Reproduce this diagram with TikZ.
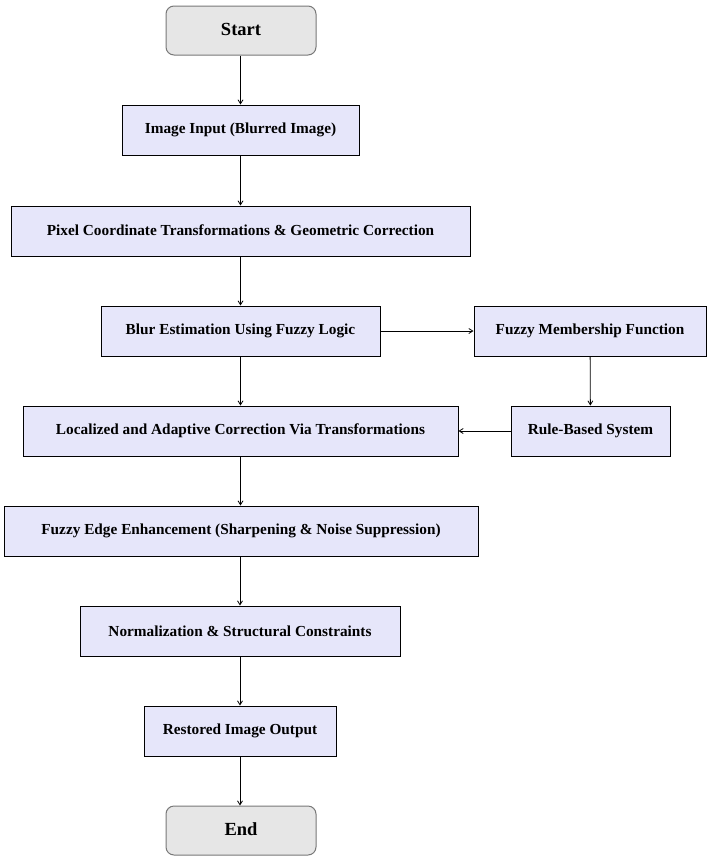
\documentclass[tikz,border=0pt]{standalone}
\usepackage{fontspec}
\setmainfont{Liberation Serif}
\usetikzlibrary{arrows.meta}
\begin{document}
\begin{tikzpicture}[x=1pt,y=-1pt,
  procbox/.style={draw=black, line width=1pt, fill={rgb,255:red,230;green,230;blue,250}, inner sep=0pt, font=\bfseries\fontsize{15.3}{17}\selectfont},
  termbox/.style={draw={rgb,255:red,120;green,120;blue,120}, line width=1pt, fill={rgb,255:red,230;green,230;blue,230}, rounded corners=8pt, inner sep=0pt, font=\bfseries\fontsize{18.5}{20}\selectfont},
  arr/.style={-{Straight Barb[length=4pt,width=5pt]}, line width=0.8pt}]
\useasboundingbox (0,0) rectangle (712,862);
\node[termbox, minimum width=150pt, minimum height=49pt] (start) at (241,30.5) {\raisebox{2pt}{Start}};
\node[procbox, minimum width=237pt, minimum height=50pt] (input) at (240.5,130) {\raisebox{2pt}{Image Input (Blurred Image)}};
\node[procbox, minimum width=459pt, minimum height=50pt] (pixel) at (240.5,231) {\raisebox{2pt}{Pixel Coordinate Transformations \& Geometric Correction}};
\node[procbox, minimum width=279pt, minimum height=50pt] (blur) at (240.5,331) {\raisebox{2pt}{Blur Estimation Using Fuzzy Logic}};
\node[procbox, minimum width=232pt, minimum height=50pt] (member) at (590,331) {\raisebox{1pt}{Fuzzy Membership Function}};
\node[procbox, minimum width=435pt, minimum height=50pt] (local) at (240.5,431) {\raisebox{1pt}{Localized and Adaptive Correction Via Transformations}};
\node[procbox, minimum width=159pt, minimum height=50pt] (rule) at (590.5,431) {\raisebox{1pt}{Rule-Based System}};
\node[procbox, minimum width=474pt, minimum height=50pt] (edge) at (241,531) {\raisebox{2pt}{Fuzzy Edge Enhancement (Sharpening \& Noise Suppression)}};
\node[procbox, minimum width=320pt, minimum height=50pt] (norm) at (240,631) {\raisebox{0pt}{Normalization \& Structural Constraints}};
\node[procbox, minimum width=192pt, minimum height=50pt] (rest) at (240,731) {\raisebox{3pt}{Restored Image Output}};
\node[termbox, minimum width=150pt, minimum height=49pt] (end) at (241,830.5) {\raisebox{2pt}{End}};
\draw[arr] (start.south -| input.north) -- (input.north);
\draw[arr] (input) -- (pixel);
\draw[arr] (pixel) -- (blur);
\draw[arr] (blur) -- (member);
\draw[arr] (member) -- (rule);
\draw[arr] (rule) -- (local);
\draw[arr] (blur) -- (local);
\draw[arr] (local) -- (local |- edge.north);
\draw[arr] (edge.south -| norm.north) -- (norm);
\draw[arr] (norm) -- (rest);
\draw[arr] (rest) -- (rest |- end.north);
\end{tikzpicture}
\end{document}
